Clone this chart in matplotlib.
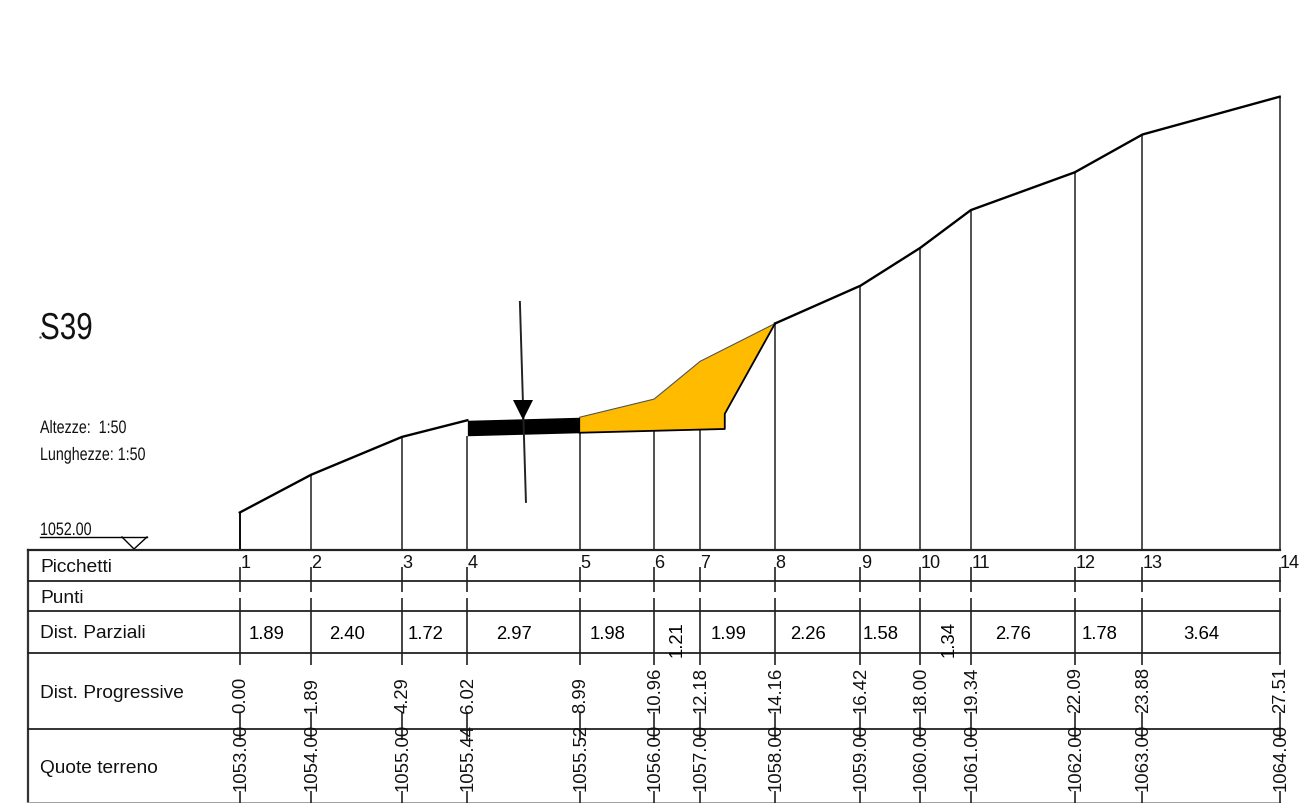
import matplotlib
matplotlib.use('Agg')
import matplotlib.pyplot as plt
from matplotlib.patches import Polygon
from matplotlib.patheffects import AbstractPathEffect
from matplotlib.transforms import Affine2D

W, H = 1303, 804
PX_PER_M = 37.8
X0 = 239.8   # pixel of progressive 0
Y0 = 551.3   # pixel of datum

DATUM = 1052.00
stations = ['1', '2', '3', '4', '5', '6', '7', '8', '9', '10', '11', '12', '13', '14']
progressive = [0.00, 1.89, 4.29, 6.02, 8.99, 10.96, 12.18, 14.16, 16.42, 18.00, 19.34, 22.09, 23.88, 27.51]
ground = [1053.00, 1054.00, 1055.00, 1055.44, 1055.52, 1056.00, 1057.00, 1058.00, 1059.00,
          1060.00, 1061.00, 1062.00, 1063.00, 1064.00]
partial = [1.89, 2.40, 1.72, 2.97, 1.98, 1.21, 1.99, 2.26, 1.58, 1.34, 2.76, 1.78, 3.64]

# project section
road_x = [6.02, 8.99]
road_top = [1055.44, 1055.52]
road_bottom = [1055.03, 1055.11]
fill_x = [8.99, 10.96, 12.18, 14.16, 12.83, 12.83, 8.99]
fill_y = [1055.52, 1056.00, 1057.00, 1058.00, 1055.61, 1055.21, 1055.11]
section_x = [7.41, 7.57]
section_y = [1058.57, 1053.28]
arrow_x = [7.50]
arrow_y = [1055.72]

row_labels = ['Picchetti', 'Punti', 'Dist. Parziali', 'Dist. Progressive', 'Quote terreno']
row_text_y = [566, 597, 632, 692, 767]
row_lines = [550.5, 581.5, 611.5, 654, 729.5, 803.5]

BODY = ['Liberation Sans', 'DejaVu Sans']


class Squeeze(AbstractPathEffect):
    """No narrow font installed, so squeeze the glyphs horizontally round x0 (display px)"""

    def __init__(self, x0, sx):
        super().__init__()
        self.x0 = x0
        self.sx = sx

    def draw_path(self, renderer, gc, tpath, affine, rgbFace=None):
        squeeze = Affine2D().translate(-self.x0, 0).scale(self.sx, 1).translate(self.x0, 0)
        renderer.draw_path(gc, tpath, affine + squeeze, rgbFace)


fig = plt.figure(figsize=(W / 100, H / 100), dpi=100)
xlim = (-X0 / PX_PER_M, (W - X0) / PX_PER_M)

# upper part in metres, table part in pixels
ax = fig.add_axes([0, 0, 1, 1])
ax.set_xlim(xlim)
ax.set_ylim(DATUM - (H - Y0) / PX_PER_M, DATUM + Y0 / PX_PER_M)
ax.axis('off')

tb = fig.add_axes([0, 0, 1, 1], sharex=ax)
tb.set_ylim(H, 0)
tb.axis('off')
tb.patch.set_alpha(0)


def px(v):
    return (v - X0) / PX_PER_M


def narrow_text(x, y, s, size):
    t = tb.text(px(x), y, s, fontsize=size, family=BODY, va='baseline', ha='left', color='#111111')
    t.set_path_effects([Squeeze(x, 0.79)])


# verticals down to the datum
for i, x in enumerate(progressive):
    if x in road_x:
        top = road_bottom[road_x.index(x)]
    elif 8.99 < x < 14.16:
        top = 1055.11 + (x - 8.99) * (1055.21 - 1055.11) / (12.83 - 8.99)
    else:
        top = ground[i]
    ax.plot([x, x], [top, DATUM], color='#333333', lw=1.2, solid_capstyle='butt')

# ground line, without the part under the road
ax.plot(progressive[:4], ground[:4], color='black', lw=1.7)
ax.plot(progressive[7:], ground[7:], color='black', lw=1.7)
ax.plot([0, 0], [ground[0], DATUM], color='black', lw=1.2)

ax.add_patch(Polygon(list(zip(fill_x, fill_y)), closed=True, facecolor='#FFBB00', edgecolor='none', zorder=3))
ax.plot(fill_x[:4], fill_y[:4], color='#555555', lw=0.8, zorder=4)
ax.plot(fill_x[3:], fill_y[3:], color='black', lw=1.3, zorder=4)
ax.fill_between(road_x, road_bottom, road_top, color='black', lw=0, zorder=4)

ax.plot(section_x, section_y, color='#222222', lw=1.4, zorder=5)
ax.plot(arrow_x, arrow_y, marker='v', color='black', ms=15, mew=0, zorder=6)

# level marker
tb.plot([px(40), px(147)], [538, 538], color='black', lw=1.0)
tb.plot([px(122), px(134), px(147)], [538, 550, 538], color='black', lw=1.0)

# table
tb.plot([px(28), px(28)], [row_lines[0], H], color='#333333', lw=1.6)
for i, y in enumerate(row_lines):
    tb.plot([px(28), progressive[-1]], [y, y], color='#999999' if i == 5 else '#222222',
            lw=1.3 if i else 1.6)

for x in progressive:
    tb.plot([x, x], [568, 593], color='#222222', lw=1.2, solid_capstyle='butt')
    tb.plot([x, x], [598.5, 666], color='#222222', lw=1.2, solid_capstyle='butt')
    tb.plot([x, x], [713, 741], color='#222222', lw=1.2, solid_capstyle='butt')
    tb.plot([x, x], [792, H], color='#222222', lw=1.2, solid_capstyle='butt')

for label, y in zip(row_labels, row_text_y):
    tb.text(px(40), y + 2, label, fontsize=13.8, family=BODY, va='center', ha='left', color='#111111')

for name, x in zip(stations, progressive):
    tb.text(x + 0.01, 564, name, fontsize=13, family=BODY, va='center', ha='left', color='#111111')

for i, d in enumerate(partial):
    mid = (progressive[i] + progressive[i + 1]) / 2
    if d < 1.4:
        shift = 0.09 if d == 1.34 else 0
        tb.text(mid + shift, 657, f'{d:.2f}', fontsize=13.3, family=BODY, rotation=90, ha='center', va='bottom')
    else:
        tb.text(mid - 0.25, 635, f'{d:.2f}', fontsize=13.3, family=BODY, ha='center', va='center')

for x, d, g in zip(progressive, progressive, ground):
    tb.text(x + 0.03, 713, f'{d:.2f}', fontsize=13.3, family=BODY, rotation=90, ha='center', va='bottom',
            color='#111111')
    tb.text(x + 0.03, 791, f'{g:.2f}', fontsize=13.3, family=BODY, rotation=90, ha='center', va='bottom',
            color='#111111')

# titles on the left
narrow_text(40, 340, 'S39', 27)
narrow_text(40, 434, 'Altezze:  1:50', 13)
narrow_text(40, 461, 'Lunghezze: 1:50', 13)
narrow_text(40, 536, '1052.00', 13)
tb.plot([px(40)], [338], marker='.', color='#555555', ms=1.5)

fig.savefig('out.png', dpi=100)
